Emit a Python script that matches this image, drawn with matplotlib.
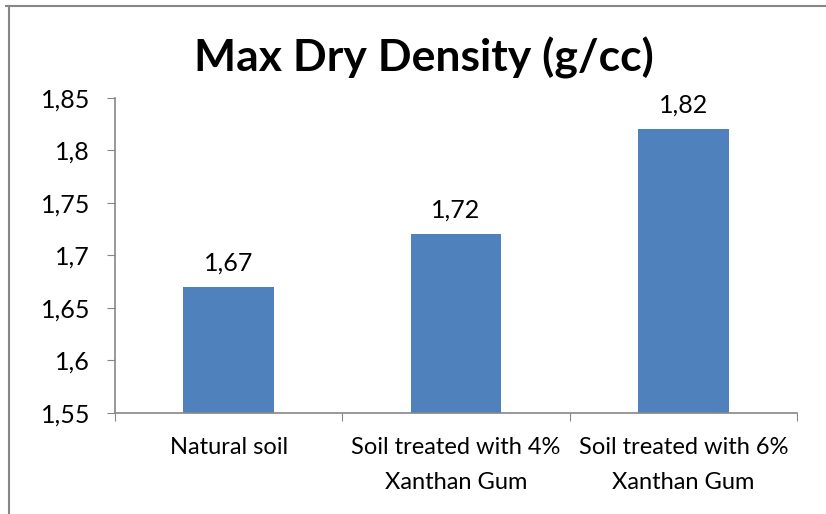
import matplotlib
matplotlib.use("Agg")
import matplotlib.pyplot as plt
from matplotlib.ticker import FuncFormatter, FixedLocator
from matplotlib.lines import Line2D

categories = ["Natural soil", "Soil treated with 4%\nXanthan Gum", "Soil treated with 6%\nXanthan Gum"]
values = [1.67, 1.72, 1.82]
title = "Max Dry Density (g/cc)"

plt.rcParams['font.family'] = ['Lato', 'DejaVu Sans']

fig = plt.figure(figsize=(8.26, 5.14), dpi=100)
ax = fig.add_axes([115/826, 1-413/514, (797-115)/826, (413-98)/514])

x = list(range(len(categories)))
bars = ax.bar(x, values, width=0.4, color="#4F81BD", zorder=2)

ax.set_ylim(1.55, 1.85)
ax.set_xlim(-0.5, len(categories) - 0.5)
ax.yaxis.set_major_locator(FixedLocator([1.55, 1.6, 1.65, 1.7, 1.75, 1.8, 1.85]))
ax.yaxis.set_major_formatter(FuncFormatter(lambda v, p: ("%g" % round(v, 3)).replace(".", ",")))

ax.set_xticks([i - 0.5 for i in range(len(categories) + 1)])
ax.set_xticklabels([])
ax.set_xticks(x, minor=True)
ax.set_xticklabels(categories, minor=True, fontsize=17, linespacing=1.85)
ax.tick_params(axis='x', which='minor', length=0, pad=17)
ax.tick_params(axis='x', which='major', length=6, color="#868686", direction='out')
ax.tick_params(axis='y', length=6, color="#868686", labelsize=18, pad=12)

for s in ["top", "right"]:
    ax.spines[s].set_visible(False)
for s in ["left", "bottom"]:
    ax.spines[s].set_color("#868686")
    ax.spines[s].set_linewidth(1.2)

for xi, v in zip(x, values):
    ax.annotate(("%g" % v).replace(".", ","), (xi, v), xytext=(0, 9), textcoords="offset points",
                ha="center", va="bottom", fontsize=18)

fig.text(424/826, 1-58/514, title, ha="center", va="center", fontsize=32, fontweight="bold")

fig.add_artist(Line2D([6/826, 1], [1-6/514, 1-6/514], transform=fig.transFigure, color="#868686", lw=1.5))
fig.add_artist(Line2D([9/826, 9/826], [0, 1-6/514], transform=fig.transFigure, color="#868686", lw=1.5))

fig.savefig("out.png", dpi=100)
